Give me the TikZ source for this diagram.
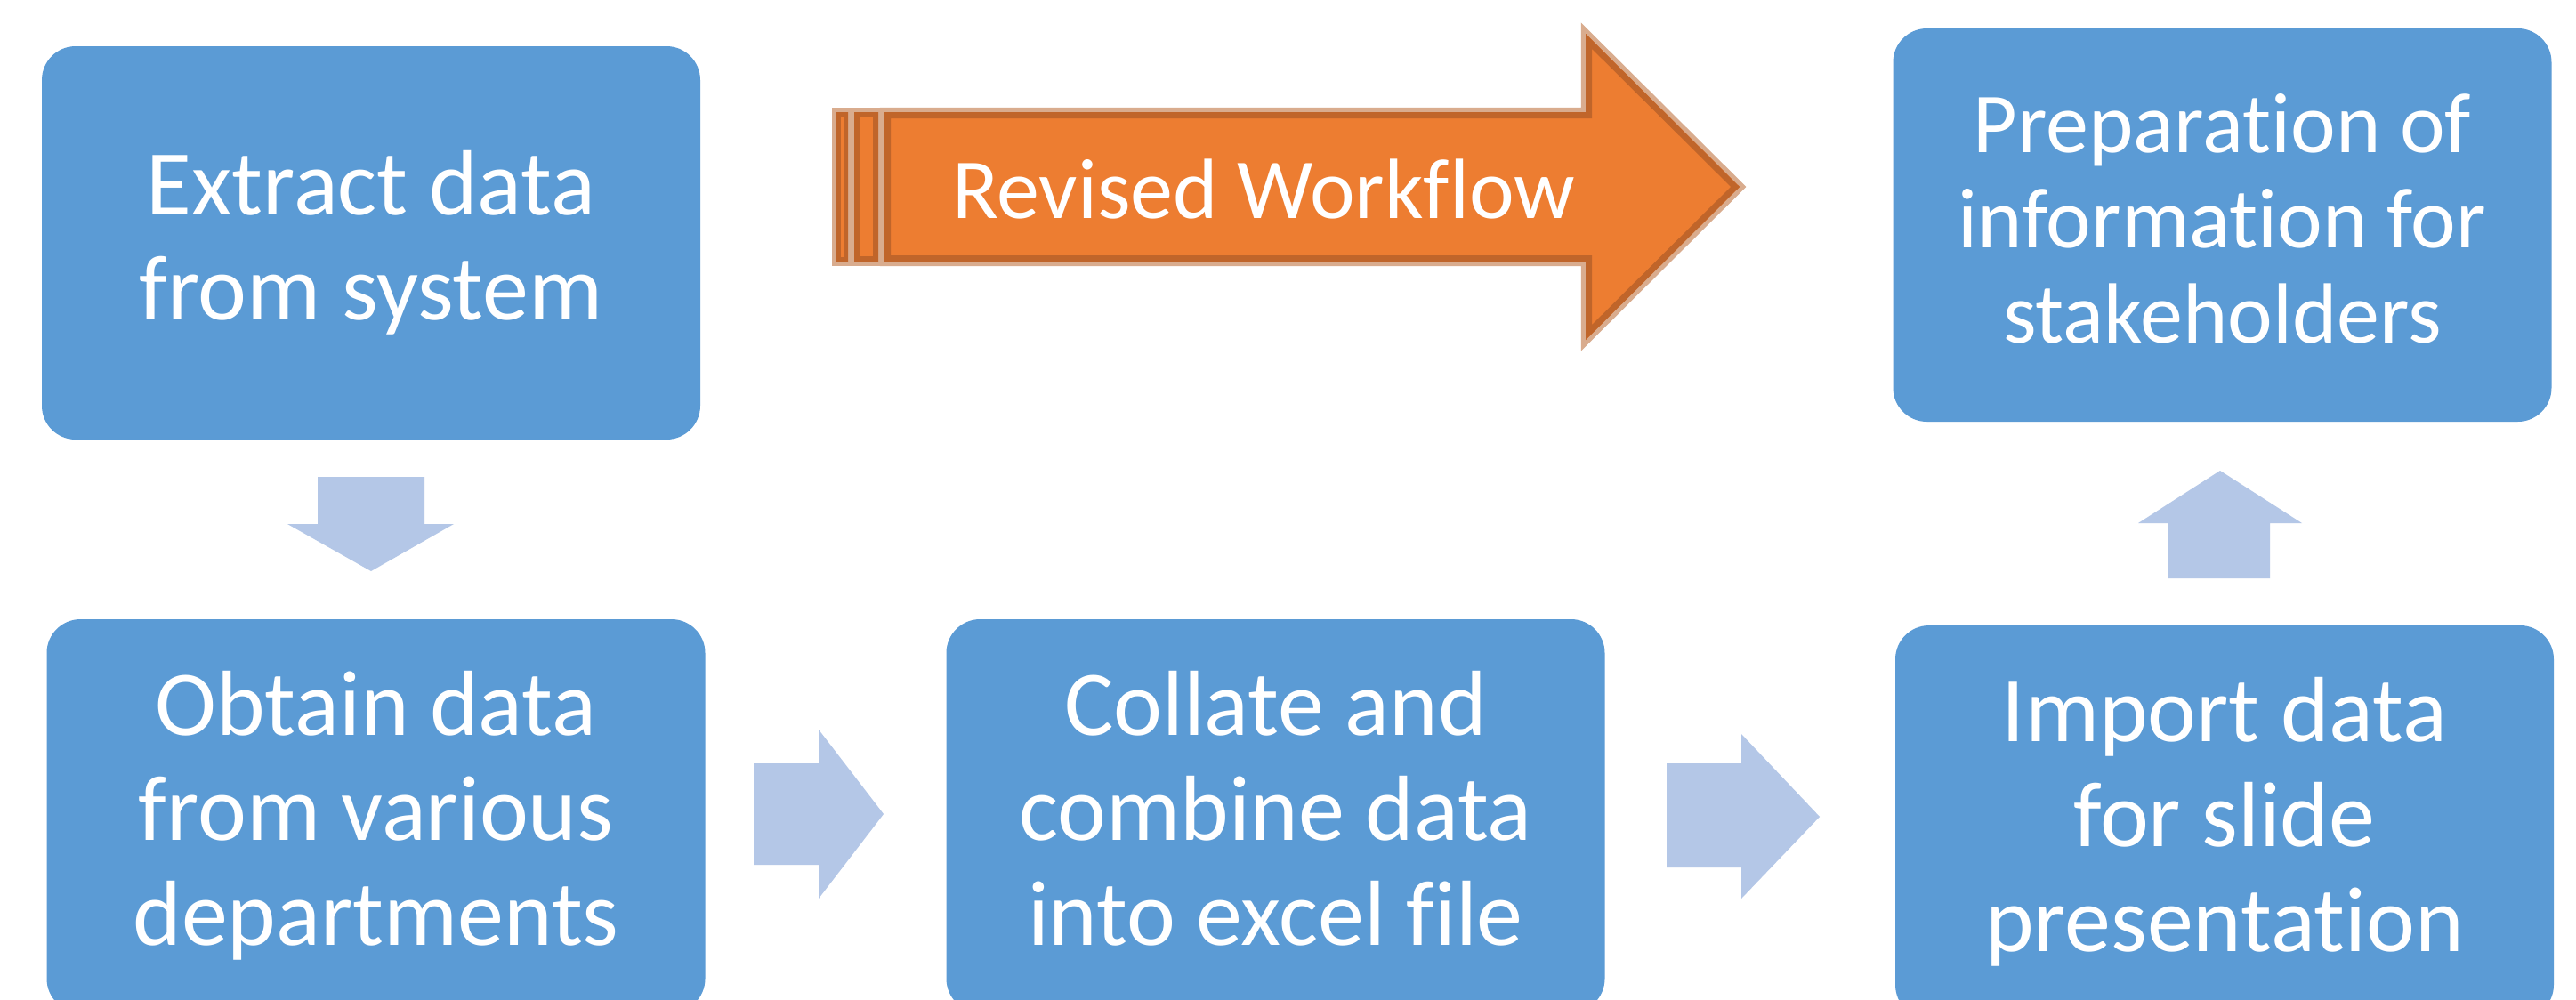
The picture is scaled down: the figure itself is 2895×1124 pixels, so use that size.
\documentclass[tikz,border=0pt]{standalone}
\usepackage{fontspec}
\setmainfont{Carlito}[Ligatures={NoCommon}]
\definecolor{boxblue}{HTML}{5B9BD5}
\definecolor{arrowblue}{HTML}{B4C7E7}
\definecolor{orangefill}{HTML}{ED7D31}
\definecolor{orangedark}{HTML}{C0652A}
\definecolor{orangehalo}{HTML}{D9AC8E}
\begin{document}
\begin{tikzpicture}[x=0.25pt,y=-0.25pt,
  stepbox/.style={rectangle, rounded corners=9.5pt, fill=boxblue, text=white,
    minimum width=185pt, minimum height=110.5pt, inner sep=0pt, align=center,
    font=\fontsize{26}{29.5}\selectfont},
  smallbox/.style={stepbox, font=\fontsize{24}{26.8}\selectfont},
  flowarrow/.style={fill=arrowblue},
  halo/.style={draw=orangehalo, line width=2.6pt},
  bandtext/.style={text=white, font=\fontsize{24}{29}\selectfont, inner sep=0pt}]
\clip (0,0) rectangle (2895,1124);
\fill[white] (0,0) rectangle (2895,1124);

% boxes
\node[stepbox] (extract) at (417,273) {Extract data\\from system};
\node[stepbox] (obtain) at (422.5,917) {Obtain data\\from various\\departments};
\node[stepbox] (collate) at (1433.5,917) {Collate and\\combine data\\into excel file\vphantom{y}};
\node[stepbox] (import) at (2500,924) {Import data\\for slide\\presentation};
\node[smallbox] (prep) at (2497.5,253) {Preparation of\\information for\\stakeholders\vphantom{y}};

% block arrows between the steps
\fill[flowarrow] (357,536) -- (477,536) -- (477,589) -- (510,589) -- (417,642)
  -- (323,589) -- (357,589) -- cycle;
\fill[flowarrow] (847,858) -- (920,858) -- (920,820) -- (993,915) -- (920,1010)
  -- (920,972) -- (847,972) -- cycle;
\fill[flowarrow] (1873,858) -- (1957,858) -- (1957,825) -- (2045,918) -- (1957,1010)
  -- (1957,975) -- (1873,975) -- cycle;
\fill[flowarrow] (2437,650) -- (2437,588) -- (2403,588) -- (2495,529) -- (2587,588)
  -- (2551,588) -- (2551,650) -- cycle;

% striped orange arrow
\draw[halo] (994,126) -- (1782,126) -- (1782,38) -- (1955,210) -- (1782,382)
  -- (1782,294) -- (994,294) -- cycle;
\draw[halo] (940,126) rectangle (953,294);
\draw[halo] (960,126) rectangle (987,294);
\fill[orangefill] (994,126) -- (1782,126) -- (1782,38) -- (1955,210) -- (1782,382)
  -- (1782,294) -- (994,294) -- cycle;
\fill[orangefill] (940,126) rectangle (953,294);
\fill[orangefill] (960,126) rectangle (987,294);
\begin{scope}
  \clip (994,126) -- (1782,126) -- (1782,38) -- (1955,210) -- (1782,382)
    -- (1782,294) -- (994,294) -- cycle;
  \draw[orangedark, line width=3.5pt] (994,126) -- (1782,126) -- (1782,38)
    -- (1955,210) -- (1782,382) -- (1782,294) -- (994,294) -- cycle;
\end{scope}
\begin{scope}
  \clip (940,126) rectangle (953,294);
  \draw[orangedark, line width=2.5pt] (940,126) rectangle (953,294);
\end{scope}
\begin{scope}
  \clip (960,126) rectangle (987,294);
  \draw[orangedark, line width=3pt] (960,126) rectangle (987,294);
\end{scope}
\node[bandtext] (revised) at (1420,213) {Revised Workflow};
\end{tikzpicture}
\end{document}
